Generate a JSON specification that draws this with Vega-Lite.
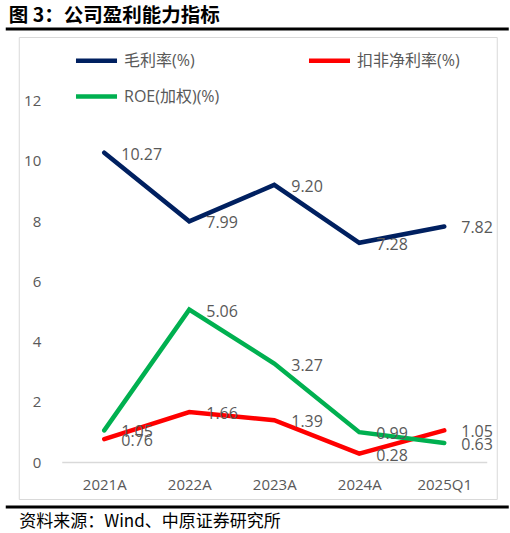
{
  "$schema": "https://vega.github.io/schema/vega-lite/v6.json",
  "background": "white",
  "padding": {"top": 6, "left": 5, "right": 5, "bottom": 5},
  "title": {
    "text": "图 3：公司盈利能力指标",
    "anchor": "start",
    "frame": "bounds",
    "font": "Noto Sans CJK SC",
    "fontSize": 19.5,
    "fontWeight": "bold",
    "color": "#000000",
    "offset": 1,
    "dx": 3
  },
  "datasets": {
    "fin": [
      {"period": "2021A", "series": "毛利率(%)", "value": 10.27},
      {"period": "2022A", "series": "毛利率(%)", "value": 7.99},
      {"period": "2023A", "series": "毛利率(%)", "value": 9.20},
      {"period": "2024A", "series": "毛利率(%)", "value": 7.28},
      {"period": "2025Q1", "series": "毛利率(%)", "value": 7.82},
      {"period": "2021A", "series": "扣非净利率(%)", "value": 0.76},
      {"period": "2022A", "series": "扣非净利率(%)", "value": 1.66},
      {"period": "2023A", "series": "扣非净利率(%)", "value": 1.39},
      {"period": "2024A", "series": "扣非净利率(%)", "value": 0.28},
      {"period": "2025Q1", "series": "扣非净利率(%)", "value": 1.05},
      {"period": "2021A", "series": "ROE(加权)(%)", "value": 1.05},
      {"period": "2022A", "series": "ROE(加权)(%)", "value": 5.06},
      {"period": "2023A", "series": "ROE(加权)(%)", "value": 3.27},
      {"period": "2024A", "series": "ROE(加权)(%)", "value": 0.99},
      {"period": "2025Q1", "series": "ROE(加权)(%)", "value": 0.63}
    ],
    "none": []
  },
  "spacing": 5,
  "center": true,
  "vconcat": [
    {
      "width": 500,
      "height": 0.01,
      "data": {"name": "none"},
      "mark": "rule",
      "encoding": {},
      "view": {"stroke": "#000000", "strokeWidth": 3}
    },
    {
      "width": 478,
      "height": 462,
      "view": {"stroke": "#d9d9d9", "strokeWidth": 1},
      "data": {"name": "fin"},
      "encoding": {
        "x": {
          "field": "period",
          "type": "ordinal",
          "sort": null,
          "scale": {"type": "point", "range": [43, 468], "padding": 0.5},
          "axis": {
            "title": null,
            "offset": -37,
            "labelAngle": 0,
            "ticks": false,
            "domainColor": "#d9d9d9",
            "domainWidth": 1.5,
            "labelPadding": 15,
            "labelFont": "Open Sans",
            "labelFontSize": 15,
            "labelColor": "#595959"
          }
        },
        "y": {
          "field": "value",
          "type": "quantitative",
          "scale": {"domain": [0, 12], "range": [425, 63.6], "nice": false},
          "axis": {
            "title": null,
            "offset": -43,
            "values": [0, 2, 4, 6, 8, 10, 12],
            "domain": false,
            "ticks": false,
            "grid": false,
            "labelPadding": 21,
            "labelFont": "Open Sans",
            "labelFontSize": 15,
            "labelColor": "#595959"
          }
        },
        "color": {
          "field": "series",
          "type": "nominal",
          "sort": ["毛利率(%)", "扣非净利率(%)", "ROE(加权)(%)"],
          "scale": {
            "domain": ["毛利率(%)", "扣非净利率(%)", "ROE(加权)(%)"],
            "range": ["#002060", "#ff0000", "#00b050"]
          },
          "legend": {
            "title": null,
            "orient": "none",
            "legendX": 80,
            "legendY": 22,
            "columns": 2,
            "direction": "horizontal",
            "symbolType": "M-3,0H3",
            "symbolSize": 187,
            "symbolStrokeWidth": 4.5,
            "labelOffset": 18,
            "labelFont": "Open Sans, Noto Sans CJK SC",
            "labelFontSize": 16,
            "labelColor": "#595959",
            "labelLimit": 0,
            "columnPadding": 79,
            "rowPadding": 17
          }
        }
      },
      "layer": [
        {"mark": {"type": "line", "strokeWidth": 4.5, "strokeCap": "round"}},
        {
          "mark": {
            "type": "text",
            "align": "left",
            "baseline": "middle",
            "dx": 17,
            "dy": 2,
            "font": "Open Sans",
            "fontSize": 16
          },
          "encoding": {
            "text": {"field": "value", "type": "quantitative", "format": ".2f"},
            "color": {"value": "#595959"}
          }
        }
      ]
    },
    {
      "width": 500,
      "height": 0.01,
      "data": {"name": "none"},
      "mark": "rule",
      "encoding": {},
      "view": {"stroke": "#000000", "strokeWidth": 3},
      "title": {
        "text": "资料来源：Wind、中原证券研究所",
        "orient": "bottom",
        "anchor": "start",
        "frame": "bounds",
        "font": "Noto Sans CJK SC",
        "fontSize": 17,
        "fontWeight": "normal",
        "color": "#000000",
        "offset": 7,
        "dx": 12
      }
    }
  ]
}
